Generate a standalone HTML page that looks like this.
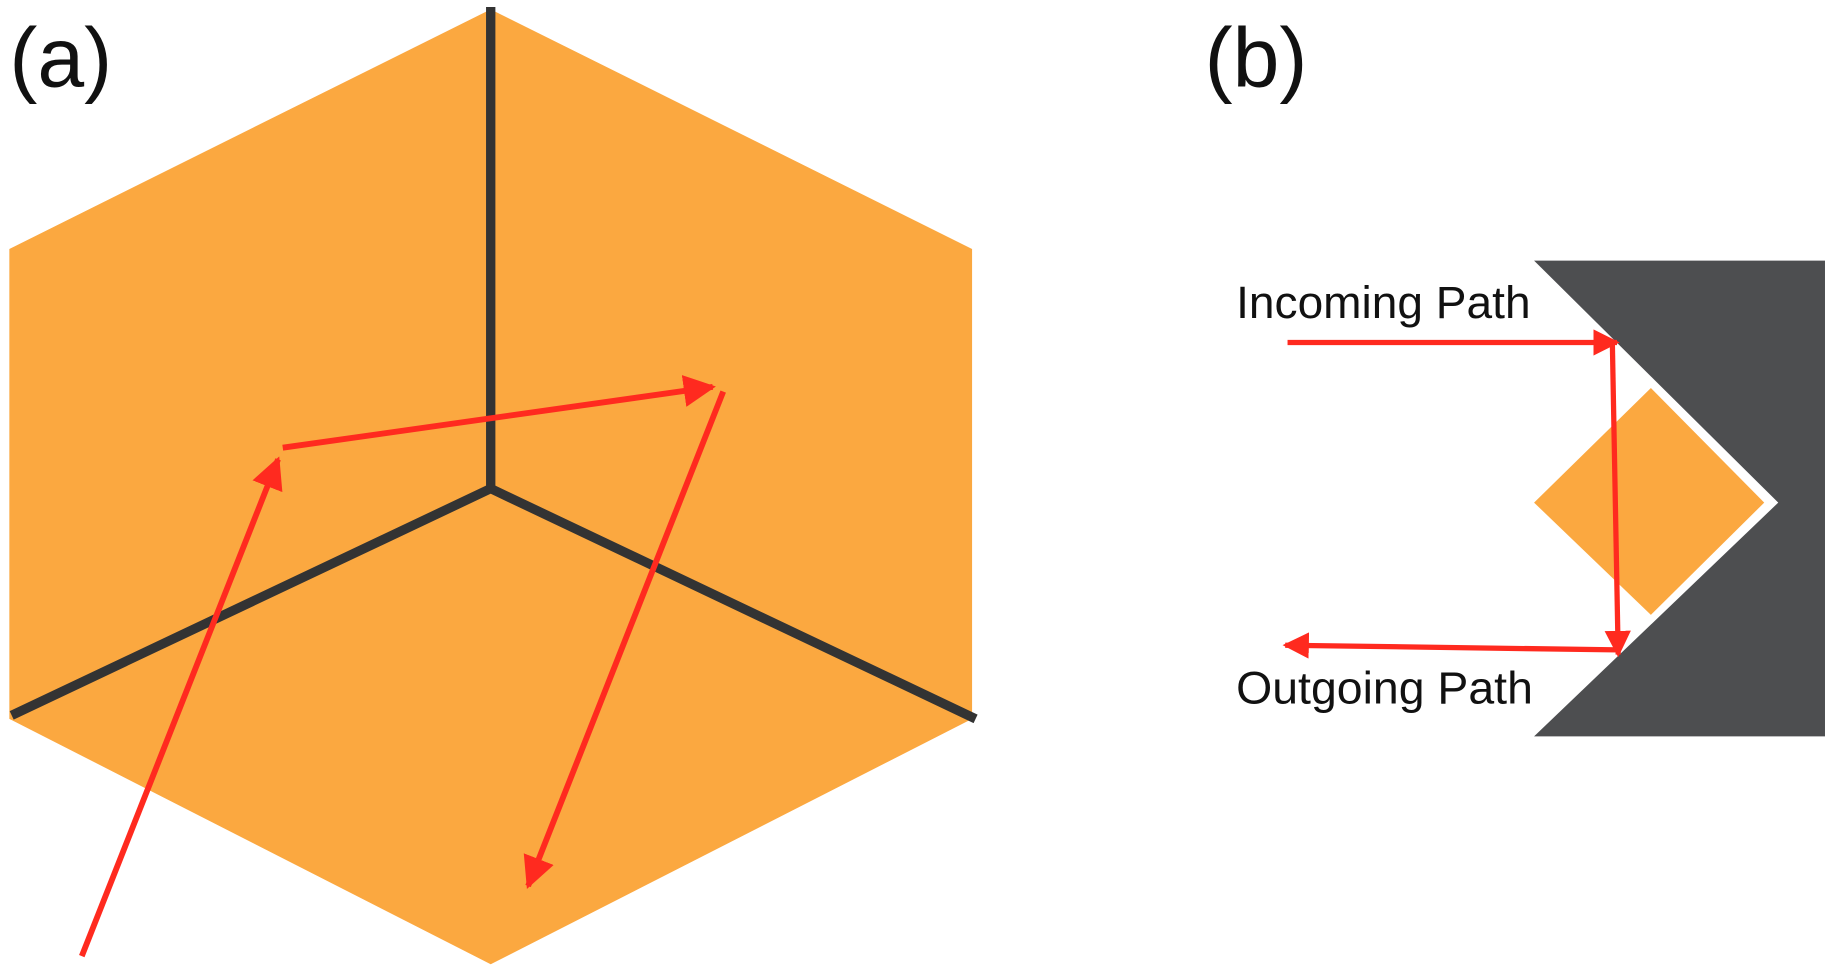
<!DOCTYPE html>
<html><head><meta charset="utf-8"><style>html,body{margin:0;padding:0;background:#fff;}svg{display:block}</style></head>
<body>
<svg width="1832" height="976" viewBox="0 0 1568 835" preserveAspectRatio="none" xmlns="http://www.w3.org/2000/svg">
<defs>
<marker id="ah" viewBox="0 0 10 10" refX="9" refY="5" markerWidth="5.5" markerHeight="5.5" markerUnits="strokeWidth" orient="auto"><path d="M0,0 L10,5 L0,10 z" fill="#ff2a1f"/></marker>
<marker id="ah2" viewBox="0 0 10 10" refX="9" refY="5" markerWidth="5" markerHeight="5" markerUnits="strokeWidth" orient="auto"><path d="M0,0 L10,5 L0,10 z" fill="#ff2a1f"/></marker>
</defs>
<text x="8" y="74" font-family="Liberation Sans, sans-serif" font-size="72" fill="#111">(a)</text>
<text x="1031" y="74" font-family="Liberation Sans, sans-serif" font-size="72" fill="#111">(b)</text>
<polygon points="420,8 832,213 832,615 420,825 8,615 8,213" fill="#fba840"/>
<g stroke="#333" stroke-width="8" fill="none">
<line x1="420" y1="6" x2="420" y2="418"/>
<polyline points="10,612 420,418 835,615"/>
</g>
<g stroke="#ff2a1f" stroke-width="5" fill="none">
<line x1="70" y1="818" x2="238" y2="393" marker-end="url(#ah)"/>
<line x1="242" y1="383" x2="610" y2="331" marker-end="url(#ah)"/>
<line x1="619" y1="335" x2="452" y2="758" marker-end="url(#ah)"/>
</g>
<polygon points="1313,223 1562,223 1562,630 1313,630 1522,430" fill="#4d4e50"/>
<polygon points="1313,430 1413,332 1510,430 1413,526" fill="#fba840"/>
<g stroke="#ff2a1f" stroke-width="4.5" fill="none">
<line x1="1102" y1="293" x2="1384" y2="293" marker-end="url(#ah2)"/>
<line x1="1380" y1="293" x2="1385" y2="560" marker-end="url(#ah2)"/>
<line x1="1385" y1="556" x2="1100" y2="552" marker-end="url(#ah2)"/>
</g>
<text x="1058" y="272" font-family="Liberation Sans, sans-serif" font-size="39" fill="#111" textLength="252" lengthAdjust="spacingAndGlyphs">Incoming Path</text>
<text x="1058" y="602" font-family="Liberation Sans, sans-serif" font-size="39" fill="#111" textLength="254" lengthAdjust="spacingAndGlyphs">Outgoing Path</text>
</svg>
</body></html>
